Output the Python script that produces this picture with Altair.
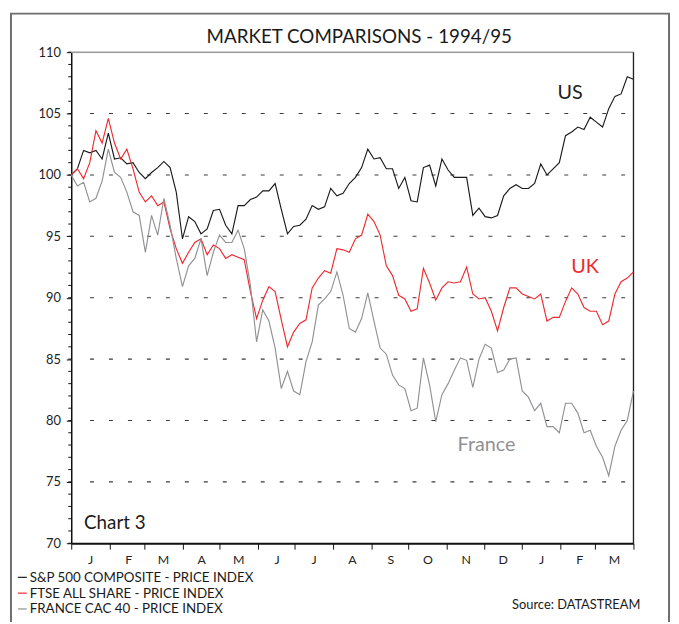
import altair as alt
import pandas as pd

# ---- data (one value every 5 days from 1 Jan 1994) ----
start_date = "1994-01-01"
step = "5D"

us = [100.0, 100.5, 102.0, 101.8, 102.0, 101.3, 103.4, 101.3, 101.4, 100.9,
      101.0, 100.2, 99.7, 100.2, 100.6, 101.1, 100.6, 98.6, 94.8, 96.6,
      96.2, 95.2, 95.6, 97.1, 97.2, 95.9, 95.2, 97.5, 97.5, 98.0,
      98.2, 98.7, 98.7, 99.3, 97.2, 95.2, 95.8, 95.9, 96.4, 97.5,
      97.2, 97.4, 98.9, 98.3, 98.5, 99.3, 99.8, 100.6, 102.1, 101.3,
      101.4, 100.5, 100.5, 98.9, 99.8, 97.9, 97.8, 100.6, 100.8, 99.1,
      101.3, 100.4, 99.8, 99.8, 99.8, 96.7, 97.3, 96.6, 96.5, 96.7,
      98.3, 98.9, 99.2, 98.9, 98.9, 99.3, 100.9, 100.0, 100.5, 101.0,
      103.2, 103.5, 103.9, 103.7, 104.7, 104.3, 103.9, 105.4, 106.4, 106.6,
      108.0, 107.8]

uk = [100.0, 100.5, 99.7, 101.0, 103.6, 102.6, 104.6, 102.6, 101.3, 102.1,
      100.5, 98.6, 97.8, 98.3, 97.5, 97.8, 95.6, 94.0, 92.8, 93.7,
      94.5, 94.8, 93.5, 94.3, 94.0, 93.2, 93.5, 93.3, 93.1, 90.5,
      88.3, 89.8, 90.9, 90.5, 88.2, 86.0, 87.2, 87.9, 88.2, 90.8,
      91.6, 92.2, 92.0, 94.0, 93.9, 93.7, 94.8, 95.1, 96.8, 96.2,
      95.1, 92.6, 91.8, 90.2, 89.9, 88.9, 89.1, 92.4, 91.2, 89.8,
      90.8, 91.3, 91.2, 91.3, 92.5, 90.3, 89.9, 90.0, 88.9, 87.3,
      89.2, 90.8, 90.8, 90.3, 90.1, 89.9, 90.3, 88.1, 88.4, 88.4,
      89.7, 90.8, 90.3, 89.2, 88.9, 88.9, 87.8, 88.1, 90.3, 91.3,
      91.6, 92.1]

france = [100.0, 99.1, 99.4, 97.8, 98.1, 99.5, 102.1, 100.2, 99.8, 98.6,
          97.0, 96.7, 93.7, 96.7, 95.1, 98.1, 95.9, 93.2, 90.9, 92.6,
          93.2, 94.8, 91.8, 93.7, 95.1, 94.5, 94.5, 95.5, 94.0, 91.0,
          86.4, 89.0, 88.1, 85.9, 82.6, 84.0, 82.4, 82.1, 84.8, 86.4,
          89.4, 89.9, 90.5, 92.1, 90.2, 87.5, 87.2, 88.3, 90.4, 88.1,
          85.9, 85.4, 83.7, 82.9, 82.6, 80.8, 81.0, 85.1, 82.9, 79.9,
          82.1, 83.0, 84.1, 85.1, 84.9, 82.7, 85.0, 86.2, 85.9, 83.9,
          84.1, 85.0, 85.1, 82.4, 81.9, 80.8, 81.4, 79.5, 79.5, 79.0,
          81.4, 81.4, 80.6, 79.0, 79.2, 77.9, 77.0, 75.5, 77.9, 79.2,
          80.0, 82.4]

series_names = ["S&P 500 COMPOSITE - PRICE INDEX",
                "FTSE ALL SHARE - PRICE INDEX",
                "FRANCE CAC 40 - PRICE INDEX"]
series_colors = ["#1a1a1a", "#ee2a2f", "#909194"]
y_ticks = [70, 75, 80, 85, 90, 95, 100, 105, 110]
grid_values = [75, 80, 85, 90, 95, 100, 105]
minor_values = list(range(70, 111))

dates = pd.date_range(start_date, periods=len(us), freq=step)
df = pd.concat([
    pd.DataFrame({"date": dates, "value": vals, "series": name})
    for vals, name in zip([us, uk, france], series_names)
], ignore_index=True)

FONT = "Lato"
W, H = 569, 497

yscale = alt.Scale(domain=[70, 110], nice=False, zero=False)
xscale = alt.Scale(domain=[alt.DateTime(year=1994, month=1, date=1),
                           alt.DateTime(year=1995, month=4, date=1)], nice=False)

y_axis = alt.Axis(title=None, values=y_ticks, grid=False, tickSize=5, tickColor="#111",
                  domainColor="#111", domainWidth=1.5, labelPadding=6,
                  labelFont=FONT, labelFontSize=13, labelColor="#222")

one = pd.DataFrame({"k": [0]})

frame = alt.Chart(one).mark_rect(fillOpacity=0, stroke="#6e6e6e", strokeWidth=2).encode(
    x=alt.value(-61), x2=alt.value(605), y=alt.value(-39), y2=alt.value(590))

grid = alt.Chart(pd.DataFrame({"value": grid_values})).mark_rule(
    color="#3a3a3a", strokeWidth=1.1, strokeDash=[4, 15.2]).encode(
    y=alt.Y("value:Q", scale=yscale, axis=y_axis), x=alt.value(19), x2=alt.value(W))

minor = alt.Chart(pd.DataFrame({"value": minor_values})).mark_rule(
    color="#111", strokeWidth=1).encode(
    y=alt.Y("value:Q", scale=yscale, axis=y_axis), x=alt.value(-3), x2=alt.value(0))

top_line = alt.Chart(one).mark_rule(color="#9a9a9a", strokeWidth=1.5).encode(
    x=alt.value(0), x2=alt.value(W), y=alt.value(0))
right_line = alt.Chart(one).mark_rule(color="#222", strokeWidth=1.3).encode(
    x=alt.value(W), y=alt.value(0), y2=alt.value(H))

label_expr = ("(month(datum.value) == 3 && year(datum.value) == 1995) ? '' : "
              "slice(timeFormat(datum.value, '%b'), 0, 1)")

lines = alt.Chart(df).mark_line(strokeWidth=1.15).encode(
    x=alt.X("date:T", scale=xscale, axis=alt.Axis(
        title=None, tickCount={"interval": "month", "step": 1},
        labelExpr=label_expr, labelOffset=19, labelFlush=False,
        labelOverlap=False, grid=False, tickSize=6, tickColor="#111",
        domainColor="#111", domainWidth=2, labelPadding=5,
        labelFont=FONT, labelFontSize=12.5, labelColor="#222")),
    y=alt.Y("value:Q", scale=yscale, axis=y_axis),
    color=alt.Color("series:N", scale=alt.Scale(domain=series_names, range=series_colors),
                    legend=None),
    order=alt.Order("series:N"),
)


def txt(s, x, y, size, color, align="left"):
    return alt.Chart(one).mark_text(
        text=s, align=align, baseline="alphabetic", font=FONT,
        fontSize=size, color=color).encode(x=alt.value(x), y=alt.value(y))


def sample(x1, x2, y, color):
    return alt.Chart(one).mark_rule(color=color, strokeWidth=1.2).encode(
        x=alt.value(x1), x2=alt.value(x2), y=alt.value(y))


texts = [
    txt("MARKET COMPARISONS - 1994/95", 291.5, -9.5, 19, "#1a1a1a", "center"),
    txt("US", 505, 47.5, 20, "#222", "center"),
    txt("UK", 520, 223, 20, "#ee2a2f", "center"),
    txt("France", 391, 403.5, 20, "#909194"),
    txt("Chart 3", 13, 482.5, 19, "#1a1a1a"),
    txt(series_names[0], -42, 536, 13.5, "#1a1a1a"),
    txt(series_names[1], -42, 552, 13.5, "#1a1a1a"),
    txt(series_names[2], -42, 568, 13.5, "#1a1a1a"),
    txt("Source: DATASTREAM", 576, 564, 13, "#1a1a1a", "right"),
    sample(-54, -45, 531.5, series_colors[0]),
    sample(-54, -45, 547.5, series_colors[1]),
    sample(-54, -45, 563.5, series_colors[2]),
]

chart = alt.layer(frame, grid, minor, top_line, right_line, lines, *texts).properties(
    width=W, height=H,
    autosize=alt.AutoSizeParams(type="none"),
    padding={"left": 64, "top": 41, "right": 38, "bottom": 76},
).configure_view(stroke="transparent").configure(background="white")

chart.save("out.html", embed_options={"renderer": "svg", "actions": False})
